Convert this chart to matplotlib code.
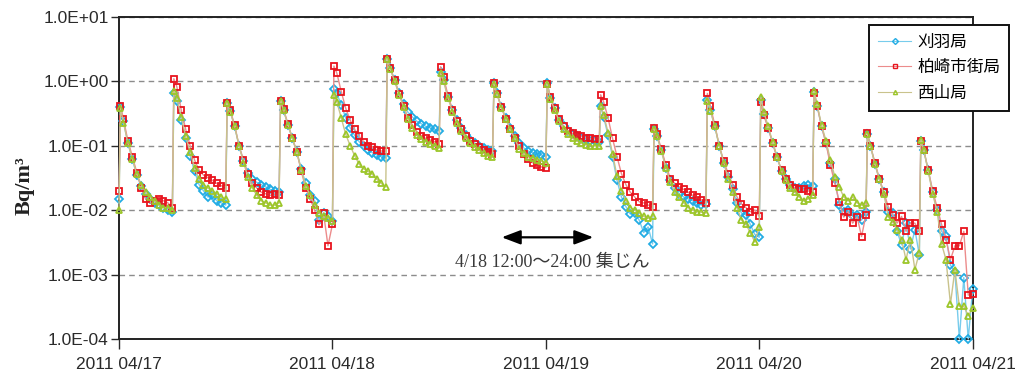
import numpy as np
import pandas as pd
import matplotlib
matplotlib.use("Agg")
import matplotlib.pyplot as plt
import matplotlib.dates as mdates
from matplotlib.ticker import FuncFormatter, FixedLocator

# ---------------- data ----------------
START = "2011-04-17 00:00"
END = "2011-04-21 00:00"
N_CYCLES = 16
CYCLE_MIN = 360
# sampling offsets (minutes) inside each 6-hour dust-collection cycle
OFFSET_MIN = [10, 30, 60, 90, 120, 150, 180, 210, 240, 270, 300, 330, 360]

LABELS = ["刈羽局", "柏崎市街局", "西山局"]

# value at 04/17 00:00 (end of previous cycle)
PRE_VALUES = [0.015, 0.020, 0.010]

KARIWA = [
    [0.40, 0.24, 0.11, 0.062, 0.035, 0.024, 0.018, 0.015, 0.013, 0.012, 0.011, 0.010, 0.0095],
    [0.65, 0.50, 0.25, 0.13, 0.07, 0.04, 0.025, 0.020, 0.016, 0.017, 0.014, 0.013, 0.012],
    [0.46, 0.35, 0.20, 0.10, 0.058, 0.038, 0.030, 0.027, 0.025, 0.023, 0.021, 0.020, 0.019],
    [0.49, 0.36, 0.21, 0.13, 0.08, 0.043, 0.026, 0.017, 0.014, 0.007, 0.009, 0.008, 0.0068],
    [0.75, 0.65, 0.43, 0.27, 0.19, 0.145, 0.116, 0.098, 0.086, 0.078, 0.072, 0.068, 0.064],
    [2.2, 1.6, 1.05, 0.65, 0.44, 0.33, 0.28, 0.24, 0.22, 0.20, 0.19, 0.18, 0.17],
    [1.4, 1.05, 0.58, 0.36, 0.25, 0.19, 0.145, 0.123, 0.11, 0.10, 0.092, 0.086, 0.082],
    [0.95, 0.65, 0.40, 0.27, 0.19, 0.14, 0.11, 0.093, 0.083, 0.078, 0.075, 0.072, 0.068],
    [0.93, 0.56, 0.38, 0.25, 0.20, 0.17, 0.15, 0.14, 0.13, 0.125, 0.12, 0.12, 0.115],
    [0.42, 0.28, 0.145, 0.068, 0.029, 0.016, 0.0114, 0.0087, 0.009, 0.007, 0.0045, 0.0055, 0.003],
    [0.18, 0.14, 0.085, 0.046, 0.029, 0.022, 0.018, 0.016, 0.015, 0.014, 0.013, 0.012, 0.0125],
    [0.52, 0.36, 0.20, 0.10, 0.055, 0.033, 0.021, 0.013, 0.009, 0.0085, 0.006, 0.0042, 0.0038],
    [0.52, 0.31, 0.19, 0.11, 0.066, 0.041, 0.030, 0.025, 0.022, 0.022, 0.024, 0.025, 0.024],
    [0.68, 0.42, 0.20, 0.11, 0.055, 0.030, 0.012, 0.0095, 0.010, 0.008, 0.0085, 0.007, 0.0095],
    [0.15, 0.10, 0.053, 0.030, 0.019, 0.0095, 0.009, 0.0047, 0.0029, 0.0063, 0.0025, 0.005, 0.002],
    [0.12, 0.085, 0.042, 0.019, 0.010, 0.0047, 0.004, 0.0014, 0.0011, 0.0001, 0.0009, 0.0001, 0.0006],
]

KASHIWAZAKI = [
    [0.42, 0.26, 0.12, 0.068, 0.038, 0.022, 0.015, 0.013, 0.014, 0.015, 0.014, 0.013, 0.011],
    [1.1, 0.83, 0.36, 0.18, 0.10, 0.06, 0.042, 0.035, 0.032, 0.029, 0.026, 0.024, 0.022],
    [0.47, 0.36, 0.21, 0.10, 0.06, 0.036, 0.026, 0.022, 0.019, 0.018, 0.017, 0.018, 0.017],
    [0.50, 0.37, 0.22, 0.13, 0.08, 0.040, 0.022, 0.015, 0.010, 0.006, 0.009, 0.0028, 0.006],
    [1.73, 1.34, 0.69, 0.38, 0.25, 0.18, 0.14, 0.116, 0.10, 0.095, 0.086, 0.083, 0.082],
    [2.2, 1.6, 1.05, 0.64, 0.42, 0.27, 0.21, 0.165, 0.143, 0.13, 0.123, 0.116, 0.105],
    [1.69, 1.15, 0.60, 0.36, 0.24, 0.18, 0.14, 0.12, 0.105, 0.095, 0.086, 0.08, 0.075],
    [0.93, 0.64, 0.40, 0.26, 0.18, 0.13, 0.098, 0.074, 0.062, 0.055, 0.05, 0.047, 0.046],
    [0.92, 0.57, 0.39, 0.26, 0.20, 0.17, 0.156, 0.148, 0.14, 0.134, 0.13, 0.128, 0.126],
    [0.62, 0.48, 0.27, 0.13, 0.068, 0.037, 0.025, 0.019, 0.016, 0.0135, 0.013, 0.012, 0.0114],
    [0.19, 0.15, 0.088, 0.050, 0.031, 0.026, 0.023, 0.021, 0.019, 0.017, 0.016, 0.0145, 0.013],
    [0.65, 0.41, 0.21, 0.10, 0.058, 0.037, 0.025, 0.016, 0.0125, 0.011, 0.0095, 0.010, 0.008],
    [0.48, 0.30, 0.19, 0.11, 0.066, 0.042, 0.031, 0.025, 0.022, 0.021, 0.021, 0.020, 0.019],
    [0.66, 0.42, 0.20, 0.11, 0.050, 0.026, 0.0135, 0.0078, 0.0095, 0.0063, 0.0079, 0.0039, 0.0085],
    [0.16, 0.10, 0.055, 0.031, 0.019, 0.0114, 0.0085, 0.0063, 0.008, 0.0047, 0.0063, 0.0063, 0.0047],
    [0.12, 0.085, 0.042, 0.020, 0.011, 0.006, 0.0035, 0.0017, 0.0028, 0.0028, 0.0047, 0.00048, 0.0005],
]

NISHIYAMA = [
    [0.38, 0.23, 0.11, 0.063, 0.036, 0.025, 0.019, 0.016, 0.014, 0.012, 0.011, 0.011, 0.010],
    [0.70, 0.55, 0.28, 0.14, 0.08, 0.045, 0.030, 0.025, 0.022, 0.020, 0.018, 0.016, 0.015],
    [0.46, 0.34, 0.20, 0.10, 0.055, 0.033, 0.022, 0.017, 0.014, 0.013, 0.012, 0.012, 0.013],
    [0.50, 0.36, 0.21, 0.13, 0.08, 0.042, 0.024, 0.017, 0.012, 0.009, 0.008, 0.0075, 0.0068],
    [0.62, 0.48, 0.27, 0.15, 0.10, 0.07, 0.052, 0.044, 0.040, 0.036, 0.030, 0.026, 0.023],
    [2.2, 1.55, 1.0, 0.62, 0.40, 0.26, 0.19, 0.145, 0.126, 0.116, 0.108, 0.10, 0.093],
    [1.35, 1.0, 0.55, 0.34, 0.23, 0.17, 0.13, 0.11, 0.095, 0.085, 0.076, 0.07, 0.066],
    [0.92, 0.63, 0.39, 0.26, 0.18, 0.13, 0.09, 0.077, 0.068, 0.064, 0.06, 0.058, 0.055],
    [0.90, 0.54, 0.36, 0.24, 0.18, 0.15, 0.13, 0.118, 0.11, 0.104, 0.10, 0.10, 0.098],
    [0.42, 0.30, 0.16, 0.075, 0.034, 0.020, 0.014, 0.011, 0.010, 0.009, 0.008, 0.0075, 0.008],
    [0.18, 0.14, 0.082, 0.045, 0.027, 0.019, 0.016, 0.013, 0.011, 0.010, 0.0095, 0.0093, 0.009],
    [0.50, 0.35, 0.20, 0.10, 0.055, 0.031, 0.019, 0.011, 0.007, 0.006, 0.0045, 0.0032, 0.0055],
    [0.58, 0.34, 0.20, 0.115, 0.068, 0.040, 0.029, 0.022, 0.019, 0.016, 0.014, 0.015, 0.017],
    [0.70, 0.44, 0.21, 0.12, 0.060, 0.033, 0.023, 0.016, 0.014, 0.016, 0.013, 0.012, 0.013],
    [0.15, 0.10, 0.052, 0.030, 0.018, 0.0079, 0.0065, 0.005, 0.0035, 0.0017, 0.0035, 0.0012, 0.0022],
    [0.123, 0.086, 0.040, 0.018, 0.0095, 0.003, 0.0017, 0.00035, 0.0012, 0.00032, 0.00032, 0.00023, 0.0003],
]

Y_TICKS = [1e-4, 1e-3, 1e-2, 1e-1, 1e0, 1e1]
X_TICKS = ["2011-04-17", "2011-04-18", "2011-04-19", "2011-04-20", "2011-04-21"]
ANNOT_TEXT = "4/18 12:00～24:00 集じん"

# ---------------- styles ----------------
MARKERS = ["D", "s", "^"]
MSIZES = [4.2, 4.4, 5.0]
EDGE_COLORS = ["#22ACE4", "#E8141E", "#9CC62A"]
LINE_COLORS = ["#78CCEC", "#EC8C8C", "#C9C38C"]

# ---------------- build ----------------
base = pd.Timestamp(START)
times = [base] + [base + pd.Timedelta(minutes=c * CYCLE_MIN + o)
                  for c in range(N_CYCLES) for o in OFFSET_MIN]

series = [KARIWA, KASHIWAZAKI, NISHIYAMA]

fig = plt.figure(figsize=(10.19, 3.73), dpi=100)
ax = fig.add_axes([119 / 1019, 1 - 339 / 373, (972.7 - 119) / 1019, (339 - 17) / 373])

handles = []
for i, cyc in enumerate(series):
    vals = [PRE_VALUES[i]] + [v for c in cyc for v in c]
    h, = ax.plot(times, vals, color=LINE_COLORS[i], lw=1.0,
                 marker=MARKERS[i], ms=MSIZES[i], mec=EDGE_COLORS[i],
                 mfc="none", mew=1.3, clip_on=False, zorder=3 + i,
                 label=LABELS[i])
    handles.append(h)

ax.set_yscale("log")
ax.set_ylim(Y_TICKS[0], Y_TICKS[-1])
ax.set_xlim(pd.Timestamp(START), pd.Timestamp(END))

ax.yaxis.set_major_locator(FixedLocator(Y_TICKS))
ax.yaxis.set_minor_locator(FixedLocator([]))
ax.yaxis.set_major_formatter(FuncFormatter(lambda v, p: f"{v:.1E}"))
ax.xaxis.set_major_locator(FixedLocator(mdates.date2num(pd.to_datetime(X_TICKS))))
ax.xaxis.set_major_formatter(mdates.DateFormatter("%Y %m/%d"))

for lab in ax.get_xticklabels() + ax.get_yticklabels():
    lab.set_fontfamily("Liberation Sans")
    lab.set_fontsize(12.5)
    lab.set_color("#2a2a2a")
ax.tick_params(axis="y", direction="out", length=6, width=1.0, pad=1.5, colors="#2a2a2a")
ax.tick_params(axis="x", direction="out", length=7, width=1.0, pad=6, colors="#2a2a2a")

ax.yaxis.grid(True, which="major", linestyle=(0, (4, 3)), color="#8c8c8c", lw=1.0, zorder=1)
ax.set_axisbelow(True)
for s in ax.spines.values():
    s.set_color("#222222")
    s.set_linewidth(1.4)

fig.text(25 / 1019, 1 - 186 / 373, "Bq/m³", rotation=90, ha="center", va="center",
         fontfamily="Liberation Serif", fontweight="bold", fontsize=16, color="#222222")

# annotation arrow + text
ax.annotate("", xy=(0.5556, 0.3158), xytext=(0.4483, 0.3158), xycoords="axes fraction",
            arrowprops=dict(arrowstyle="<|-|>,head_length=0.95,head_width=0.36",
                            mutation_scale=12, lw=1.6, color="black", shrinkA=0, shrinkB=0),
            zorder=10)
ax.text(0.5078, 0.237, ANNOT_TEXT, transform=ax.transAxes, ha="center", va="center",
        fontsize=13, color="#3a3a3a", family=["Liberation Serif", "Noto Sans CJK JP"],
        zorder=10)

leg = ax.legend(handles=handles, loc="upper left", bbox_to_anchor=(868.7 / 1019, 1 - 24.7 / 373),
                bbox_transform=fig.transFigure, borderaxespad=0, fancybox=False,
                framealpha=1, edgecolor="#111111", handlelength=2.0, handletextpad=0.35,
                borderpad=0.55, labelspacing=0.5,
                prop={"family": ["Noto Sans CJK JP"], "size": 12})
leg.get_frame().set_linewidth(1.4)
leg.set_zorder(20)
for lh in leg.legend_handles:
    lh.set_markersize(3.0)
    lh.set_markeredgewidth(1.0)
    lh.set_linewidth(0.8)

fig.savefig("out.png", dpi=100)
